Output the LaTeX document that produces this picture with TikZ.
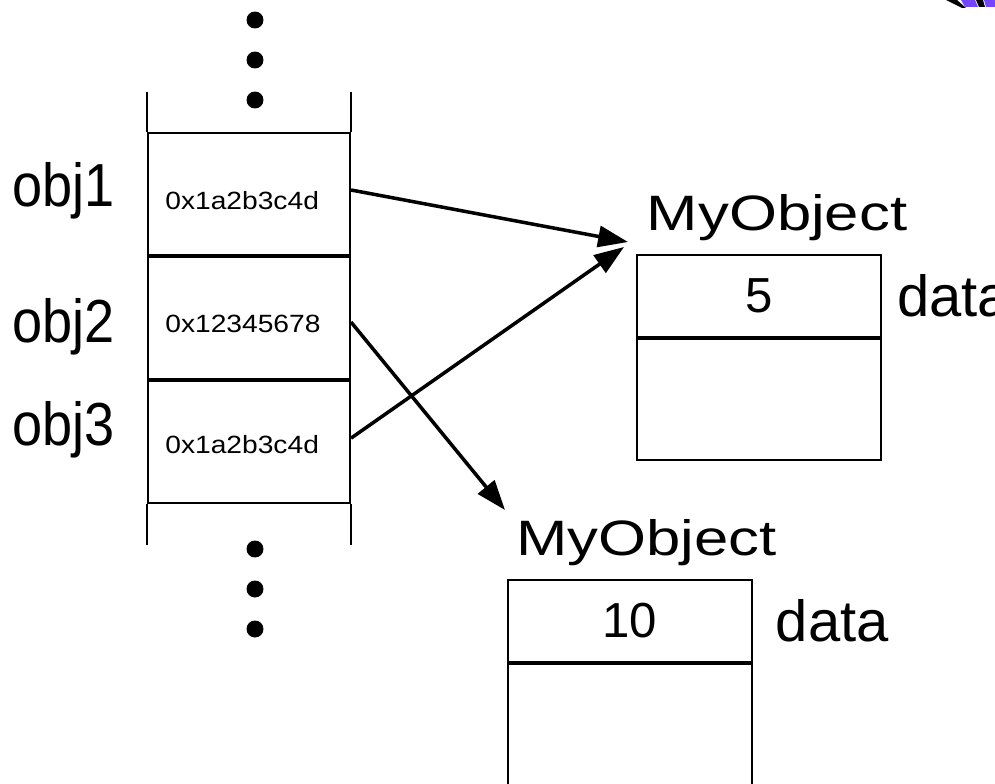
\documentclass[tikz,border=0pt]{standalone}
\usepackage{fontspec}
\setmainfont{Liberation Sans}
\newfontfamily\namefont[FakeStretch=0.89]{Liberation Sans}
\newfontfamily\addrfont[FakeStretch=1.13]{Liberation Sans}
\newfontfamily\typefont[FakeStretch=1.24]{Liberation Sans}
\usetikzlibrary{arrows.meta,positioning}
\definecolor{stripe}{HTML}{7444FF}

\begin{document}
\begin{tikzpicture}
        [
            x = 0.02cm, y = -0.02cm,
            > = {Triangle[length=17pt, width=12pt]},
            ref/.style = {->, line width=2pt},
            cell/.style = {
                draw, line width=1.2pt, inner sep=0pt,
                minimum width=4.04cm, minimum height=2.44cm},
            field/.style = {
                draw, line width=1.2pt, inner sep=0pt,
                minimum width=4.88cm, minimum height=1.64cm,
                font=\fontsize{28}{28}\selectfont},
            body/.style = {
                draw, line width=1.2pt, inner sep=0pt,
                minimum width=4.88cm, minimum height=2.42cm},
            var/.style = {inner sep=0pt, anchor=base west, font=\namefont\fontsize{34.6}{35}\selectfont},
            addr/.style = {inner sep=0pt, anchor=base west, font=\addrfont\fontsize{14.2}{15}\selectfont},
            type/.style = {inner sep=0pt, font=\typefont\fontsize{28.3}{29}\selectfont},
            member/.style = {inner sep=0pt, font=\fontsize{33}{33}\selectfont}
        ]
        \useasboundingbox (0,0) rectangle (995,784);
        \clip (0,0) rectangle (995,784);

        % the stack of references
        \node [cell] (cell1) at (249,194) {};
        \node [cell] (cell2) [below=0pt of cell1] {};
        \node [cell] (cell3) [below=0pt of cell2] {};
        \draw [line width=1.2pt] (cell1.north west) -- ++(0,-40);
        \draw [line width=1.2pt] (cell1.north east) -- ++(0,-40);
        \draw [line width=1.2pt] (cell3.south west) -- ++(0,41);
        \draw [line width=1.2pt] (cell3.south east) -- ++(0,41);
        \foreach \y in {20,60,100,549,589,629}
            \fill (255,\y) circle [radius=0.17cm];

        \node [addr] (addr1) at (165,210) {0x1a2b3c4d};
        \node [addr] (addr2) at (165,333) {0x12345678};
        \node [addr] (addr3) at (165,453) {0x1a2b3c4d};

        \node [var] (obj1) at (12,207) {obj1};
        \node [var] (obj2) at (12,342) {obj2};
        \node [var] (obj3) at (12,445) {obj3};

        % the two objects on the heap
        \node [field] (val1) at (759,296) {5};
        \node [body] (rest1) [below=0pt of val1] {};
        \node [type] (class1) [above=0.26cm of val1.north west, anchor=south west, xshift=6] {MyObject};
        \node [member] (data1) [right=0.3cm of val1] {data};

        \node [field] (val2) at (630,621) {10};
        \node [body] (rest2) [below=0pt of val2] {};
        \node [type] (class2) [above=0.26cm of val2.north west, anchor=south west, xshift=5] {MyObject};
        \node [member] (data2) [right=0.45cm of val2] {data};

        \coordinate (tip1) at (628,242);
        \coordinate (tip3) at (624,247);
        \coordinate (tip2) at (505,510);
        \draw [ref] ([yshift=0.08cm]cell1.east) -- (tip1);
        \draw [ref] ([yshift=-0.08cm]cell2.east) -- (tip2);
        \draw [ref] ([yshift=0.08cm]cell3.east) -- (tip3);

        % corner of the logo
        \fill (946,0) -- (957,0) -- (966,8) -- (962,8) -- cycle;
        \fill [stripe] (961,0) -- (975,0) -- (978,7) -- (965,7) -- cycle;
        \fill (976,0) -- (983,0) -- (985,7) -- (979,7) -- cycle;
        \fill [stripe] (984,0) -- (995,0) -- (995,7) -- (986,7) -- cycle;
    \end{tikzpicture}
\end{document}
